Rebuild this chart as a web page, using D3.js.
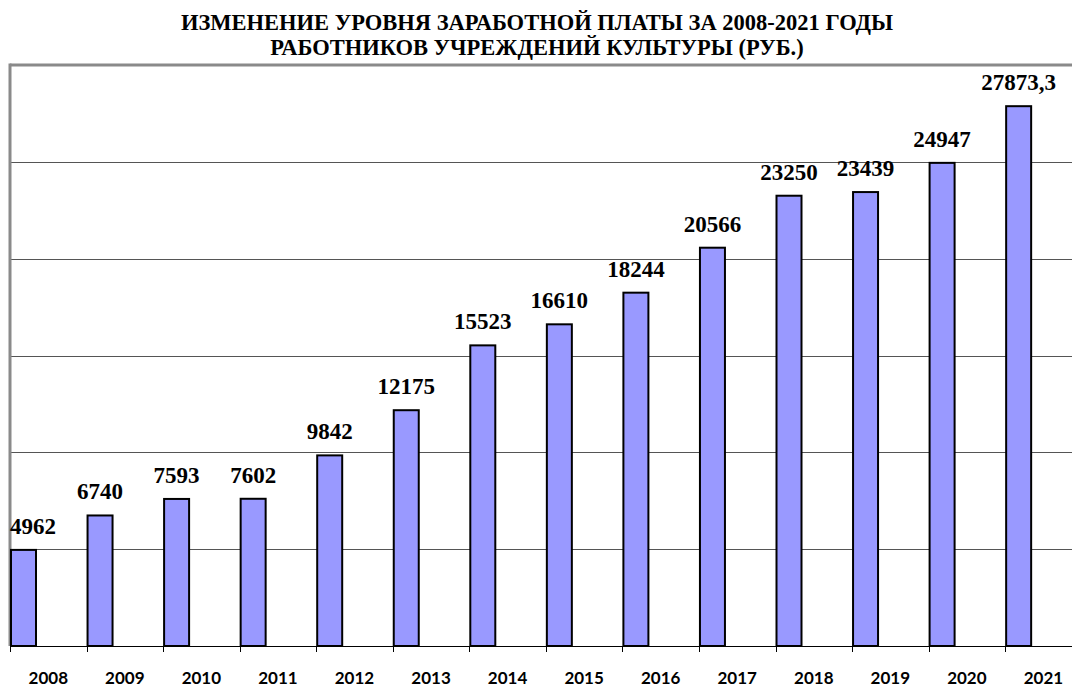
<!DOCTYPE html>
<html>
<head>
<meta charset="utf-8">
<script src="https://cdn.jsdelivr.net/npm/d3@7/dist/d3.min.js"></script>
<style>
  html, body { margin: 0; padding: 0; background: #fff; }
  svg { display: block; }
</style>
</head>
<body>
<svg id="chart" width="1072" height="689"></svg>
<script>
const titleLines = [
  "ИЗМЕНЕНИЕ УРОВНЯ ЗАРАБОТНОЙ ПЛАТЫ ЗА 2008-2021 ГОДЫ",
  "РАБОТНИКОВ УЧРЕЖДЕНИЙ КУЛЬТУРЫ (РУБ.)"
];
const years = ["2008","2009","2010","2011","2012","2013","2014","2015","2016","2017","2018","2019","2020","2021"];
const salaries = [4962, 6740, 7593, 7602, 9842, 12175, 15523, 16610, 18244, 20566, 23250, 23439, 24947, 27873.3];
const gridValues = [5000, 10000, 15000, 20000, 25000];
const yMax = 30000;

(function () {
const svg = d3.select("#chart");
const plotLeft = 10, plotTop = 65, plotBottom = 646, band = 76.55;
const plotRight = plotLeft + band * years.length;

const x = d3.scaleBand().domain(years).range([plotLeft, plotRight]).paddingInner(0).paddingOuter(0);
const y = d3.scaleLinear().domain([0, yMax]).range([plotBottom, plotTop]);

// title
svg.append("g").selectAll("text").data(titleLines).join("text")
  .attr("x", 537)
  .attr("y", (d, i) => 30 + i * 25)
  .attr("text-anchor", "middle")
  .style("font-family", "'Liberation Serif', 'Times New Roman', serif")
  .style("font-weight", "bold")
  .style("font-size", "22.5px")
  .text(d => d);

// gridlines
svg.append("g").selectAll("line").data(gridValues).join("line")
  .attr("x1", plotLeft).attr("x2", 1072)
  .attr("y1", d => Math.round(y(d)) + 0.5).attr("y2", d => Math.round(y(d)) + 0.5)
  .attr("stroke", "#555").attr("stroke-width", 1);

// plot frame (top & left)
svg.append("line").attr("x1", plotLeft).attr("x2", 1072).attr("y1", y(yMax)).attr("y2", y(yMax))
  .attr("stroke", "#8a8a8a").attr("stroke-width", 3);
svg.append("line").attr("x1", plotLeft).attr("x2", plotLeft).attr("y1", y(yMax) - 1.5).attr("y2", plotBottom)
  .attr("stroke", "#8a8a8a").attr("stroke-width", 3);

// bars
const barW = 25;
svg.append("g").selectAll("rect").data(salaries).join("rect")
  .attr("x", (d, i) => x(years[i]) + 1)
  .attr("y", d => y(d))
  .attr("width", barW)
  .attr("height", d => plotBottom - y(d))
  .attr("fill", "#9999ff")
  .attr("stroke", "#000")
  .attr("stroke-width", 2);

// x axis line & ticks
svg.append("line").attr("x1", plotLeft).attr("x2", 1072).attr("y1", plotBottom + 0.5).attr("y2", plotBottom + 0.5)
  .attr("stroke", "#000").attr("stroke-width", 1);
svg.append("g").selectAll("line").data(years).join("line")
  .attr("x1", d => Math.round(x(d)) + 0.5).attr("x2", d => Math.round(x(d)) + 0.5)
  .attr("y1", plotBottom).attr("y2", plotBottom + 6)
  .attr("stroke", "#000").attr("stroke-width", 1);

// x labels
svg.append("g").selectAll("text").data(years).join("text")
  .attr("x", d => x(d) + x.bandwidth() / 2)
  .attr("y", 684)
  .attr("text-anchor", "middle")
  .style("font-family", "Lato, 'Open Sans', sans-serif")
  .style("font-weight", "bold")
  .style("font-size", "17px")
  .text(d => d);

// value labels
const fmt = v => String(v).replace(".", ",");
svg.append("g").selectAll("text").data(salaries).join("text")
  .attr("y", d => y(d) - 16)
  .attr("text-anchor", "middle")
  .style("font-family", "'Liberation Serif', 'Times New Roman', serif")
  .style("font-weight", "bold")
  .style("font-size", "23px")
  .text(d => fmt(d))
  .each(function(d, i) {
    const w = this.getComputedTextLength();
    const cx = x(years[i]) + 1 + barW / 2;
    d3.select(this).attr("x", Math.max(cx, plotLeft + w / 2));
  });
})();
</script>
</body>
</html>
